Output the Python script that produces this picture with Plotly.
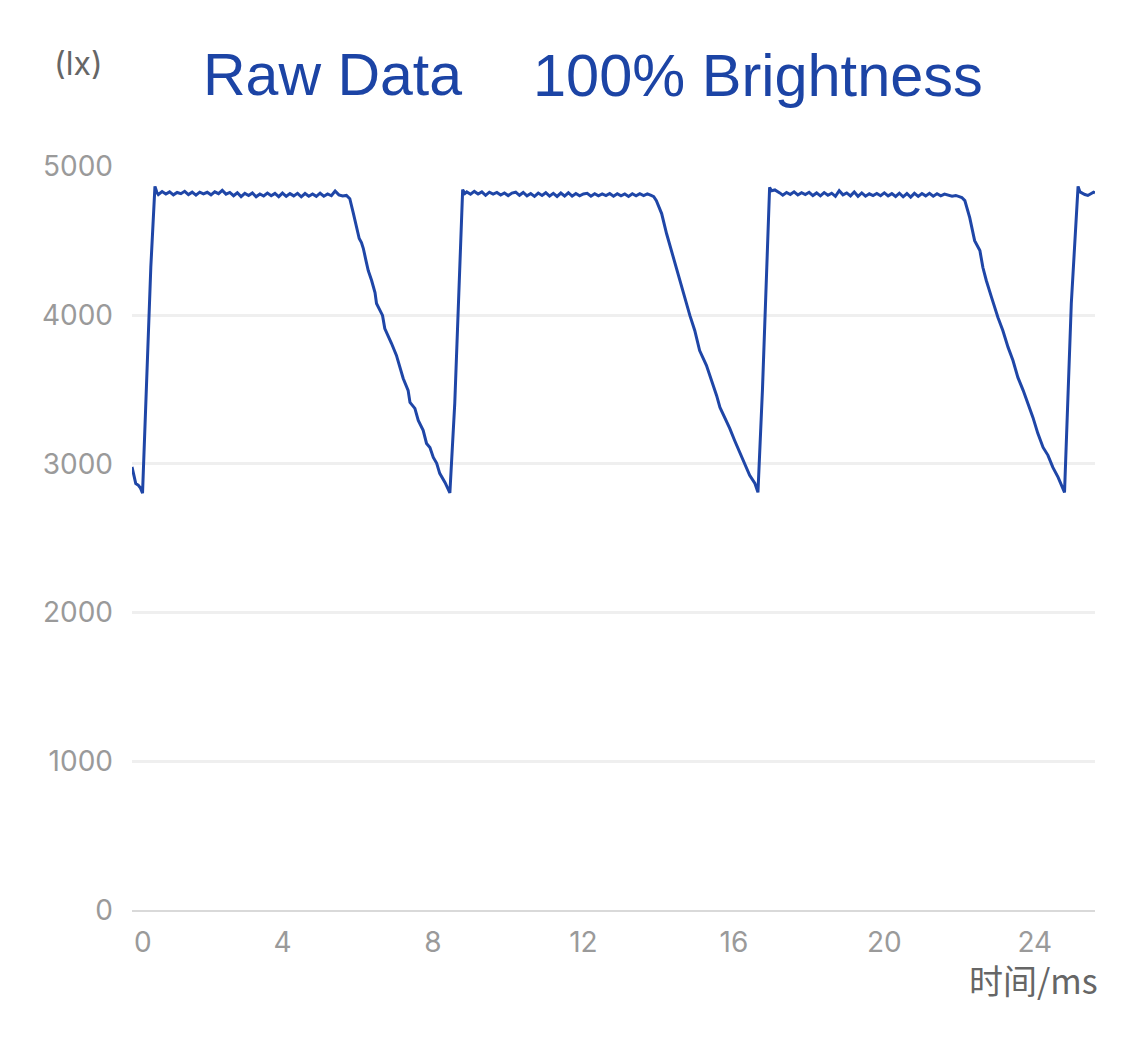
import plotly.graph_objects as go

# ---- data (time in ms, illuminance in lx) ----
time_c1 = [0.00, 0.06, 0.10, 0.17, 0.22, 0.28, 0.39, 0.50, 0.61, 0.66,
           0.70, 0.80, 0.90, 1.00, 1.10, 1.20, 1.30, 1.40, 1.50, 1.60,
           1.70, 1.80, 1.90, 2.00, 2.10, 2.20, 2.30, 2.40, 2.50, 2.60,
           2.70, 2.80, 2.90, 3.00, 3.10, 3.20, 3.30, 3.40, 3.50, 3.60,
           3.70, 3.80, 3.90, 4.00, 4.10, 4.20, 4.30, 4.40, 4.50, 4.60,
           4.70, 4.80, 4.90, 5.00, 5.10, 5.20, 5.30, 5.40, 5.50, 5.60, 5.70,
           5.74, 5.79, 5.88, 5.97, 6.04, 6.10, 6.15, 6.22, 6.28, 6.37,
           6.46, 6.50, 6.59, 6.66, 6.72, 6.81, 6.90, 7.03, 7.12, 7.21,
           7.34, 7.39, 7.52, 7.61, 7.74, 7.83, 7.92, 8.01, 8.10, 8.18,
           8.32, 8.43]
lux_c1 = [2980, 2900, 2868, 2856, 2840, 2804, 3541, 4323, 4867, 4827,
          4812, 4832, 4815, 4830, 4810, 4826, 4818, 4834, 4812, 4828,
          4808, 4828, 4816, 4827, 4810, 4830, 4818, 4840, 4815, 4826,
          4804, 4824, 4798, 4820, 4806, 4823, 4797, 4816, 4802, 4822,
          4804, 4820, 4798, 4822, 4800, 4818, 4803, 4820, 4797, 4819,
          4801, 4816, 4800, 4821, 4801, 4816, 4804, 4836, 4810, 4802, 4806,
          4798, 4784, 4691, 4603, 4516, 4489, 4449, 4368, 4301, 4234,
          4153, 4079, 4039, 3999, 3911, 3864, 3810, 3730, 3649, 3575,
          3495, 3414, 3374, 3293, 3226, 3138, 3111, 3044, 3004, 2937,
          2876, 2816]

time_c2 = [8.45, 8.58, 8.67, 8.74, 8.79, 8.85,
           8.90, 9.00, 9.10, 9.20, 9.30, 9.40, 9.50, 9.60, 9.70, 9.80,
           9.90, 10.00, 10.10, 10.20, 10.30, 10.40, 10.50, 10.60, 10.70, 10.80,
           10.90, 11.00, 11.10, 11.20, 11.30, 11.40, 11.50, 11.60, 11.70, 11.80,
           11.90, 12.00, 12.10, 12.20, 12.30, 12.40, 12.50, 12.60, 12.70, 12.80,
           12.90, 13.00, 13.10, 13.20, 13.30, 13.40, 13.50, 13.60, 13.70, 13.80,
           13.87, 13.94, 14.08, 14.21, 14.34, 14.48, 14.61, 14.74, 14.83, 14.96,
           15.09, 15.27, 15.41, 15.54, 15.63, 15.76, 15.89, 16.02, 16.16, 16.29,
           16.42, 16.56]
lux_c2 = [2806, 3407, 4079, 4617, 4845, 4819,
          4830, 4814, 4833, 4816, 4830, 4807, 4828, 4815, 4826, 4809,
          4823, 4805, 4822, 4828, 4807, 4826, 4803, 4819, 4800, 4822,
          4806, 4824, 4801, 4820, 4799, 4822, 4802, 4824, 4801, 4819,
          4804, 4816, 4820, 4801, 4818, 4803, 4816, 4805, 4819, 4801,
          4818, 4803, 4816, 4799, 4817, 4803, 4818, 4805, 4817, 4806,
          4798, 4771, 4684, 4550, 4435, 4301, 4200, 4086, 3999, 3898,
          3763, 3663, 3562, 3461, 3380, 3313, 3239, 3158, 3078, 3004,
          2923, 2869]

time_c3 = [16.64, 16.76, 16.88, 16.95, 17.00, 17.09, 17.22,
           17.30, 17.40, 17.50, 17.60, 17.70, 17.80, 17.90, 18.00, 18.10, 18.20,
           18.30, 18.40, 18.50, 18.60, 18.70, 18.80, 18.90, 19.00, 19.10, 19.20,
           19.30, 19.40, 19.50, 19.60, 19.70, 19.80, 19.90, 20.00, 20.10, 20.20,
           20.30, 20.40, 20.50, 20.60, 20.70, 20.80, 20.90, 21.00, 21.10, 21.20,
           21.30, 21.40, 21.50, 21.60, 21.70, 21.80, 21.90,
           22.00, 22.06, 22.14, 22.27, 22.40, 22.54, 22.62, 22.71, 22.85, 22.93,
           23.02, 23.15, 23.29, 23.42, 23.55, 23.69, 23.82, 23.95, 24.08, 24.22,
           24.35, 24.48, 24.62, 24.72]
lux_c3 = [2809, 3500, 4400, 4860, 4838, 4843, 4823,
          4808, 4826, 4812, 4830, 4809, 4825, 4812, 4827, 4805, 4823,
          4803, 4825, 4807, 4821, 4800, 4838, 4810, 4823, 4803, 4829,
          4800, 4823, 4801, 4817, 4805, 4819, 4804, 4823, 4803, 4818,
          4799, 4821, 4797, 4819, 4795, 4820, 4800, 4819, 4803, 4820,
          4801, 4817, 4803, 4815, 4807, 4801, 4806,
          4800, 4792, 4771, 4657, 4502, 4435, 4321, 4234, 4120, 4052,
          3985, 3898, 3784, 3696, 3582, 3495, 3407, 3313, 3206, 3111,
          3058, 2977, 2910, 2856]

time_c4 = [24.79, 24.97, 25.08, 25.15, 25.20, 25.24, 25.33, 25.41, 25.49, 25.56, 25.60]
lux_c4 = [2809, 4079, 4600, 4867, 4830, 4823, 4812, 4806, 4818, 4828, 4822]

x_ticks = [0, 4, 8, 12, 16, 20, 24]
y_ticks = [0, 1000, 2000, 3000, 4000, 5000]

time_ms = time_c1 + time_c2 + time_c3 + time_c4
lux = lux_c1 + lux_c2 + lux_c3 + lux_c4

LINE_BLUE = "#1f46a7"
TITLE_BLUE = "#1c44a5"
TICK_GRAY = "#9a9a9a"
NAME_GRAY = "#666666"
TICK_FONT = dict(family="Inter, Roboto, sans-serif", size=28, color=TICK_GRAY)

fig = go.Figure()
fig.add_trace(go.Scatter(x=time_ms, y=lux, mode="lines",
                         line=dict(color=LINE_BLUE, width=3),
                         hoverinfo="skip", showlegend=False))

L, R, T, B = 132, 30, 166, 130
W, H = 1125, 1040
pw, ph = W - L - R, H - T - B


def px(xp):
    return (xp - L) / pw


def py(yp):
    return (H - B - yp) / ph


fig.update_layout(
    width=W, height=H,
    margin=dict(l=L, r=R, t=T, b=B),
    paper_bgcolor="white", plot_bgcolor="white",
    showlegend=False,
    xaxis=dict(range=[0, 25.6], tickvals=x_ticks,
               ticktext=[""] + [str(v) for v in x_ticks[1:]],
               showgrid=False, zeroline=False,
               showline=True, linecolor="#d9d9d9", linewidth=2,
               ticks="", tickfont=TICK_FONT, ticklabelstandoff=6,
               fixedrange=True),
    yaxis=dict(range=[0, 5004], tickvals=y_ticks,
               ticktext=[str(v) for v in y_ticks],
               showgrid=True, gridcolor="#efefef", gridwidth=2.5,
               zeroline=False, showline=False,
               ticks="", tickfont=TICK_FONT, ticklabelstandoff=18,
               fixedrange=True),
    annotations=[
        dict(text="Raw Data", x=px(201), y=py(75), xref="paper", yref="paper",
             xanchor="left", yanchor="middle", showarrow=False,
             font=dict(family="Liberation Sans, Arial, sans-serif", size=59, color=TITLE_BLUE)),
        dict(text="100% Brightness", x=px(531), y=py(75), xref="paper", yref="paper",
             xanchor="left", yanchor="middle", showarrow=False,
             font=dict(family="Liberation Sans, Arial, sans-serif", size=59.5, color=TITLE_BLUE)),
        dict(text="(lx)", x=px(52), y=py(64), xref="paper", yref="paper",
             xanchor="left", yanchor="middle", showarrow=False,
             font=dict(family="Inter, Roboto, sans-serif", size=32, color=NAME_GRAY)),
        dict(text="时间/ms", x=px(1100), y=py(979), xref="paper", yref="paper",
             xanchor="right", yanchor="middle", showarrow=False,
             font=dict(family="Noto Sans CJK SC, sans-serif", size=34, color=NAME_GRAY)),
        dict(text="0", x=0, y=py(942), xref="x", yref="paper",
             xanchor="left", yanchor="middle", showarrow=False,
             font=TICK_FONT),
    ],
)

fig.write_html("out.html", config={"displayModeBar": False})
